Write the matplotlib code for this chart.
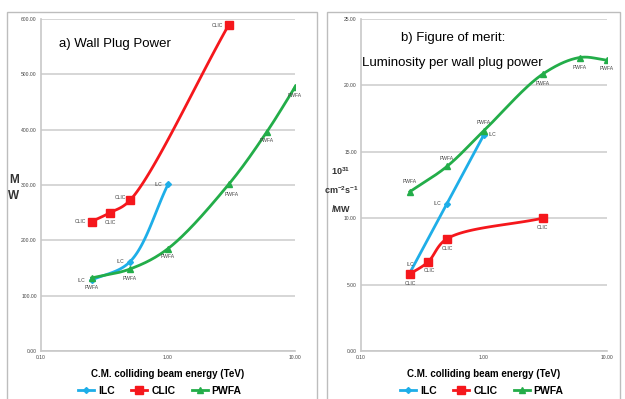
import numpy as np
import matplotlib
matplotlib.use("Agg")
import matplotlib.pyplot as plt
from matplotlib.patches import Rectangle

# ---------------------------------------------------------------------------
# Data
# ---------------------------------------------------------------------------
ilc_e = [0.25, 0.5, 1.0]
clic_e = [0.25, 0.35, 0.5, 3.0]
pwfa_e = [0.25, 0.5, 1.0, 3.0, 6.0, 10.0]

# a) wall plug power [MW]
ilc_power = [128, 161, 301]
clic_power = [234, 250, 272, 589]
pwfa_power = [132, 148, 185, 301, 396, 477]

# b) luminosity per wall plug power [1e31 cm^-2 s^-1 / MW]
ilc_merit = [5.9, 11.1, 16.3]
clic_merit = [5.8, 6.7, 8.45, 10.0]
pwfa_merit = [12.0, 13.9, 16.6, 20.85, 22.1, 21.9]

SERIES = ["ILC", "CLIC", "PWFA"]
COLORS = {"ILC": "#1eaee8", "CLIC": "#f5171c", "PWFA": "#23ad49"}
MARKERS = {"ILC": ("D", 3.0), "CLIC": ("s", 5.5), "PWFA": ("^", 5.0)}

FONT = ["Liberation Sans", "DejaVu Sans"]
plt.rcParams["font.family"] = FONT
plt.rcParams["mathtext.fontset"] = "custom"
plt.rcParams["mathtext.rm"] = "Liberation Sans:bold"
plt.rcParams["mathtext.bf"] = "Liberation Sans:bold"
plt.rcParams["mathtext.default"] = "bf"

W, H = 625, 399


def smooth(x, y, sx, sy, n=40):
    """Excel-like smooth line: centripetal Catmull-Rom in pixel space."""
    P = np.column_stack([np.log10(x) * sx, np.asarray(y, float) * sy])
    if len(P) < 3:
        return x, y
    P = np.vstack([2 * P[0] - P[1], P, 2 * P[-1] - P[-2]])
    out = []
    for i in range(1, len(P) - 2):
        p0, p1, p2, p3 = P[i - 1], P[i], P[i + 1], P[i + 2]
        t0 = 0.0
        t1 = t0 + np.linalg.norm(p1 - p0) ** 0.5
        t2 = t1 + np.linalg.norm(p2 - p1) ** 0.5
        t3 = t2 + np.linalg.norm(p3 - p2) ** 0.5
        t = np.linspace(t1, t2, n)[:, None]
        a1 = (t1 - t) / (t1 - t0) * p0 + (t - t0) / (t1 - t0) * p1
        a2 = (t2 - t) / (t2 - t1) * p1 + (t - t1) / (t2 - t1) * p2
        a3 = (t3 - t) / (t3 - t2) * p2 + (t - t2) / (t3 - t2) * p3
        b1 = (t2 - t) / (t2 - t0) * a1 + (t - t0) / (t2 - t0) * a2
        b2 = (t3 - t) / (t3 - t1) * a2 + (t - t1) / (t3 - t1) * a3
        out.append((t2 - t) / (t2 - t1) * b1 + (t - t1) / (t2 - t1) * b2)
    out = np.vstack(out)
    return 10 ** (out[:, 0] / sx), out[:, 1] / sy


def draw_series(ax, name, x, y, offsets, sx, sy):
    lx, ly = smooth(x, y, sx, sy)
    ax.plot(lx, ly, color=COLORS[name], linewidth=2.0, zorder=3)
    m, ms = MARKERS[name]
    ax.plot(x, y, linestyle="none", marker=m, markersize=ms,
            color=COLORS[name], zorder=4)
    for xi, yi, (dx, dy) in zip(x, y, offsets):
        ax.annotate(name, (xi, yi), xytext=(dx, dy), textcoords="offset points",
                    ha="center", va="center", fontsize=3.6, color="#444444")


def style_axes(ax, ymax, ystep):
    ax.set_xscale("log")
    ax.set_xlim(0.1, 10)
    ax.set_ylim(0, ymax)
    ax.set_xticks([0.1, 1, 10])
    ax.set_xticklabels(["0.10", "1.00", "10.00"])
    ax.minorticks_off()
    ticks = np.arange(0, ymax + 0.001, ystep)
    ax.set_yticks(ticks)
    ax.set_yticklabels([f"{t:.2f}" for t in ticks])
    ax.tick_params(length=0, labelsize=3.6, labelcolor="#444444", pad=3)
    ax.grid(axis="y", color="#d0d0d0", linewidth=1.2)
    ax.set_axisbelow(True)
    for s in ["top", "right"]:
        ax.spines[s].set_visible(False)
    for s in ["left", "bottom"]:
        ax.spines[s].set_color("#c8c8c8")
        ax.spines[s].set_linewidth(1.2)


fig = plt.figure(figsize=(6.25, 3.99), dpi=100)

# panel frames
fig.patches.append(Rectangle((7 / W, -0.1), 310 / W, 1 - 12 / H + 0.1,
                             transform=fig.transFigure, fill=False,
                             edgecolor="#bdbdbd", linewidth=1.0))
fig.patches.append(Rectangle((327 / W, -0.1), 293 / W, 1 - 12 / H + 0.1,
                             transform=fig.transFigure, fill=False,
                             edgecolor="#bdbdbd", linewidth=1.0))

axa = fig.add_axes([41 / W, 48 / H, 254 / W, 332 / H])
axb = fig.add_axes([361 / W, 48 / H, 246 / W, 332 / H])

# ---- panel a ----
style_axes(axa, 600, 100)
sxa, sya = 254 / 2, 332 / 600
draw_series(axa, "ILC", ilc_e, ilc_power, [(-7, 0), (-7, 0), (-7, 0)], sxa, sya)
draw_series(axa, "CLIC", clic_e, clic_power,
            [(-8, 0), (0, -7), (-7, 2), (-8, 0)], sxa, sya)
draw_series(axa, "PWFA", pwfa_e, pwfa_power,
            [(0, -7), (0, -7), (0, -6), (2, -7), (0, -6), (0, -6)], sxa, sya)
axa.text(0.071, 0.925, "a) Wall Plug Power", transform=axa.transAxes,
         fontsize=9.5, ha="left", va="center")
axa.set_xlabel("C.M. colliding beam energy (TeV)", fontsize=7, fontweight="bold")
axa.xaxis.set_label_coords(0.5, -0.069)
axa.xaxis.label.set_va("center")
fig.text(14 / W, 1 - 188 / H, "M\nW", fontsize=8.5, fontweight="bold",
         ha="center", va="center", linespacing=1.5, color="#333333")

# ---- panel b ----
style_axes(axb, 25, 5)
sxb, syb = 246 / 2, 332 / 25
draw_series(axb, "ILC", ilc_e, ilc_merit, [(0, 6), (-7, 0), (6, 0)], sxb, syb)
draw_series(axb, "CLIC", clic_e, clic_merit,
            [(0, -7), (1, -6), (0, -7), (0, -7)], sxb, syb)
draw_series(axb, "PWFA", pwfa_e, pwfa_merit,
            [(0, 7), (0, 6), (0, 6), (0, -7), (0, -7), (0, -6)], sxb, syb)
axb.text(0.163, 0.943, "b) Figure of merit:", transform=axb.transAxes,
         fontsize=9.5, ha="left", va="center")
axb.text(0.004, 0.867, "Luminosity per wall plug power", transform=axb.transAxes,
         fontsize=9.5, ha="left", va="center")
axb.set_xlabel("C.M. colliding beam energy (TeV)", fontsize=7, fontweight="bold")
axb.xaxis.set_label_coords(0.5, -0.069)
axb.xaxis.label.set_va("center")
fig.text(341 / W, 1 - 171 / H, r"10$^{31}$", fontsize=6.5, fontweight="bold",
         ha="center", va="center", color="#333333")
fig.text(341 / W, 1 - 190 / H, r"cm$^{-2}$s$^{-1}$", fontsize=6.5,
         fontweight="bold", ha="center", va="center", color="#333333")
fig.text(341 / W, 1 - 209 / H, "/MW", fontsize=6.5, fontweight="bold",
         ha="center", va="center", color="#333333")

# legends
handles = []
for name in SERIES:
    m, ms = MARKERS[name]
    h, = axa.plot([], [], color=COLORS[name], linewidth=2, marker=m, markersize=ms)
    handles.append(h)
for cx in [160 / W, 482 / W]:
    fig.legend(handles, SERIES, loc="center", bbox_to_anchor=(cx, 1 - 391 / H),
               ncol=3, frameon=False, handlelength=1.5,
               handletextpad=0.4, columnspacing=1.6,
               prop={"weight": "bold", "size": 7.5, "family": FONT})

fig.savefig("out.png", dpi=100)
